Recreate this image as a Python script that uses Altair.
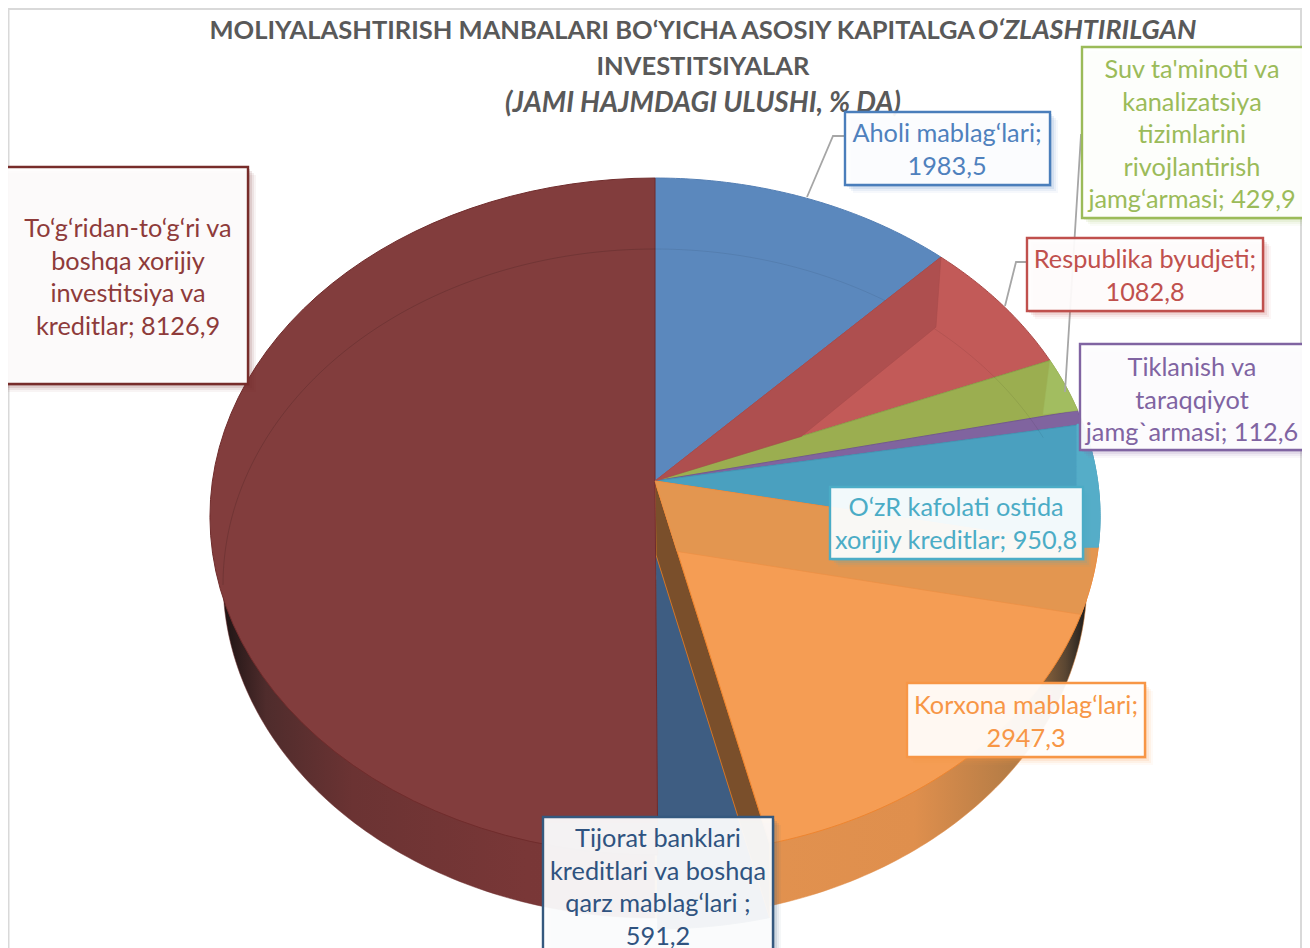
import math
import altair as alt
import pandas as pd

# ---- data ----
CATEGORIES = ["Aholi mablag‘lari", "Respublika byudjeti", "Suv ta'minoti va kanalizatsiya",
              "Tiklanish va taraqqiyot", "O‘zR kafolati ostida xorijiy kreditlar",
              "Korxona mablag‘lari", "Tijorat banklari kreditlari", "To‘g‘ridan-to‘g‘ri investitsiya"]
VALUES = [1983.5, 1082.8, 429.9, 112.6, 950.8, 2947.3, 591.2, 8126.9]
COLORS = ["#5b88bd", "#c25a58", "#9bae50", "#80649f", "#4aa0bf", "#f59d54", "#3e5d82", "#823d3d"]
TITLE_PLAIN = "MOLIYALASHTIRISH MANBALARI BO‘YICHA ASOSIY KAPITALGA"
TITLE_ITALIC = "O‘ZLASHTIRILGAN"
TITLE_LINE2 = "INVESTITSIYALAR"
TITLE_LINE3 = "(JAMI HAJMDAGI ULUSHI, % DA)"
LABEL_LINES = [
    ["Aholi mablag‘lari;", "1983,5"],
    ["Respublika byudjeti;", "1082,8"],
    ["Suv ta'minoti va", "kanalizatsiya", "tizimlarini", "rivojlantirish", "jamg‘armasi; 429,9"],
    ["Tiklanish va", "taraqqiyot", "jamg`armasi; 112,6"],
    ["O‘zR kafolati ostida", "xorijiy kreditlar; 950,8"],
    ["Korxona mablag‘lari;", "2947,3"],
    ["Tijorat banklari", "kreditlari va boshqa", "qarz mablag‘lari ;", "591,2"],
    ["To‘g‘ridan-to‘g‘ri va", "boshqa xorijiy", "investitsiya va", "kreditlar; 8126,9"],
]

# ---- layout ----
W, H = 1294, 940
XS = alt.Scale(domain=[8, 8 + W], range=[0, W])
YS = alt.Scale(domain=[8, 8 + H], range=[0, H])
AX, AY = 655.0, 481.0
K, A_Y, D = 0.1049, -284.3, 442.6
BOX = {0: (845, 1050, 112, 185, "#4a7ebb", "#4f81bd", 947, 134),
       1: (1027, 1263, 238, 311, "#c0504d", "#c0504d", 1145, 260),
       2: (1082, 1312, 47, 218, "#9bbb59", "#9bbb59", 1192, 70),
       3: (1080, 1312, 344, 450, "#8064a2", "#8064a2", 1192, 368),
       4: (830, 1083, 487, 559, "#4bacc6", "#4bacc6", 956, 508),
       5: (907, 1145, 683, 757, "#f79646", "#f79646", 1026, 706),
       6: (543, 773, 817, 970, "#35597f", "#2f5380", 658, 839),
       7: (0, 248, 167, 384, "#772c2a", "#8e3b3a", 128, 229)}
LINE_STEP = 32.5
FONT = "Lato"
LABEL_SIZE = 25.3
TITLE_SIZE = 25.5


def rim(deg):
    t = math.radians(deg)
    u, v = math.sin(t), math.cos(t)
    den = 1 + K * v
    return AX + D * u / den, (A_Y * v + AY) / den


def arc(d0, d1, n=60):
    return [rim(d0 + (d1 - d0) * i / n) for i in range(n + 1)]


def ell(cx, cy, rx, ry, a0, a1, n=90):
    return [(cx + rx * math.sin(math.radians(a0 + (a1 - a0) * i / n)),
             cy - ry * math.cos(math.radians(a0 + (a1 - a0) * i / n))) for i in range(n + 1)]


def meet(p1, p2, p3, p4):
    x1, y1 = p1; x2, y2 = p2; x3, y3 = p3; x4, y4 = p4
    d = (x1 - x2) * (y3 - y4) - (y1 - y2) * (x3 - x4)
    s = ((x1 - x3) * (y3 - y4) - (y1 - y3) * (x3 - x4)) / d
    return x1 + s * (x2 - x1), y1 + s * (y2 - y1)


def df(pts):
    return pd.DataFrame({"x": [p[0] for p in pts], "y": [p[1] for p in pts], "i": range(len(pts))})


def enc(chart):
    return chart.encode(x=alt.X("x:Q", scale=XS, axis=None),
                        y=alt.Y("y:Q", scale=YS, axis=None),
                        order=alt.Order("i:Q"))


def poly(pts, fill, stroke=None, sw=1.0, opacity=1.0):
    pts = list(pts) + [pts[0]]
    return enc(alt.Chart(df(pts)).mark_line(fill=fill, stroke=stroke or fill, strokeWidth=sw,
                                            opacity=opacity, interpolate="linear"))


def path(pts, stroke, sw=1.0, opacity=1.0):
    return enc(alt.Chart(df(pts)).mark_line(stroke=stroke, strokeWidth=sw, opacity=opacity))


def rect(x0, x1, y0, y1, **kw):
    d = pd.DataFrame({"x": [x0], "x2": [x1], "y": [y0], "y2": [y1]})
    return alt.Chart(d).mark_rect(**kw).encode(
        x=alt.X("x:Q", scale=XS, axis=None), x2="x2:Q",
        y=alt.Y("y:Q", scale=YS, axis=None), y2="y2:Q")


def text(s, x, y, color, size=LABEL_SIZE, align="center", weight="normal", style="normal"):
    d = pd.DataFrame({"x": [x], "y": [y], "t": [s]})
    return alt.Chart(d).mark_text(font=FONT, fontSize=size, color=color, align=align, baseline="middle",
                                  fontWeight=weight, fontStyle=style).encode(
        x=alt.X("x:Q", scale=XS, axis=None), y=alt.Y("y:Q", scale=YS, axis=None), text="t:N")


total = sum(VALUES)
cum = [0.0]
for v in VALUES:
    cum.append(cum[-1] + v / total * 360)
apex = (AX, AY)
DROP = 74
layers = []

# frame
layers.append(rect(8.5, 1301, 9, 960, fill="white", stroke="#d9d9d9", strokeWidth=2))

# title
GREY = "#595959"
layers += [text(TITLE_PLAIN, 975, 31, GREY, TITLE_SIZE, "right", "bold"),
           text(TITLE_ITALIC, 978, 31, GREY, 27, "left", "bold", "italic"),
           text(TITLE_LINE2, 703, 67, GREY, TITLE_SIZE, "center", "bold"),
           text(TITLE_LINE3, 703, 104, GREY, 27.8, "center", "bold", "italic")]

# wall of the disc
BX, BY, BRX, BRY = 655, 580, 432, 338
left_wall = alt.LinearGradient(gradient="linear", x1=0, x2=1, y1=0, y2=0, stops=[
    alt.GradientStop(color="#1e1414", offset=0), alt.GradientStop(color="#4f2c2c", offset=0.1),
    alt.GradientStop(color="#6b3333", offset=0.3), alt.GradientStop(color="#793737", offset=0.7),
    alt.GradientStop(color="#7b3838", offset=1)])
right_wall = alt.LinearGradient(gradient="linear", x1=0, x2=1, y1=0, y2=0, stops=[
    alt.GradientStop(color="#e39350", offset=0), alt.GradientStop(color="#df8f4d", offset=0.6),
    alt.GradientStop(color="#b07a45", offset=0.85), alt.GradientStop(color="#5a4632", offset=0.95),
    alt.GradientStop(color="#1a1a1a", offset=1)])
layers.append(enc(alt.Chart(df(ell(BX, BY, BRX, BRY, 180, 270) + [(BX, BY), (BX, BY + BRY)])).mark_line(
    fill=left_wall, stroke="#6e2f2f", strokeWidth=0.5)))
layers.append(enc(alt.Chart(df(ell(BX, BY, BRX, BRY, 180, 90) + [(BX, BY), (BX, BY + BRY)])).mark_line(
    fill=right_wall, stroke="#e08a45", strokeWidth=0.5)))

# sunken navy slice and the exposed side of the orange slice
navy = arc(cum[6], cum[7])
layers.append(poly([(AX + 1, AY + DROP)] + [(x, y + DROP) for x, y in navy], COLORS[6]))
oe = rim(cum[6])
layers.append(poly([apex, oe, (oe[0], oe[1] + DROP), (AX + 1, AY + DROP)], "#7a4f2b", "#ed7d1f", 0.8))

# top faces
STROKES = ["#5580b5", "#a94a48", "#8da24a", "#73598f", "#4297b5", "#ee8530", None, "#702c2c"]
for i in range(8):
    if i == 6:
        continue
    layers.append(poly([apex] + arc(cum[i], cum[i + 1]), COLORS[i], STROKES[i], 1.0))

# bottom rim seen through the translucent face
RX, RY, RRX, RRY = 655, 585, 432, 336
layers.append(path(ell(RX, RY, RRX, RRY, 270, 360), "#000000", 1, 0.13))
layers.append(path(ell(RX, RY, RRX, RRY, 0, 64), "#000000", 1, 0.07))

# inner walls seen through the faces
a = rim(cum[1])
a2 = (a[0] - 5, a[1] + 70)
ap2 = (AX, AY + DROP)
layers.append(poly([apex, a, a2, meet(a2, ap2, apex, rim(cum[2]))], "#ae4f4f", "#a84b4b", 0.6))
b0 = rim(cum[2])
layers.append(poly([b0] + arc(cum[2], cum[3], 12)[1:] + [(b0[0] - 7, b0[1] + 54)], "#a2bd60", "#9fb85c", 0.5))
end_band = 112.5
s1 = rim(end_band)
band_low = meet((AX, AY + 67), s1, apex, oe)
layers.append(poly([apex] + arc(cum[5], end_band, 20) + [band_low], "#e39650", "#ec8f45", 0.7))
teal_rim = arc(cum[4], cum[5], 20)
INNER_X = 1077
inner = [(min(x, INNER_X), y) for x, y in teal_rim]
layers.append(poly(teal_rim + inner[::-1], "#55adc8"))

# leader lines
LEAD = "#a6a6a6"
layers.append(path([(807, 197), (833, 136), (846, 136)], LEAD, 1.8))
layers.append(path([(1005, 306), (1016, 262), (1028, 262)], LEAD, 1.8))
layers.append(path([(1065, 392), (1081, 135), (1083, 135)], LEAD, 1.8))

# label boxes
for i, lines in enumerate(LABEL_LINES):
    x0, x1, y0, y1, edge, ink, cx, cy = BOX[i]
    for off, op in ((8, 0.05), (6, 0.08), (4, 0.12), (2, 0.16)):
        layers.append(rect(x0 + off, x1 + off, y0 + off, y1 + off, fill=edge, opacity=op))
    layers.append(rect(x0, x1, y0, y1, fill="white", fillOpacity=0.93, stroke=edge, strokeWidth=2.4))
    for j, line in enumerate(lines):
        layers.append(text(line, cx, cy + j * LINE_STEP, ink))

chart = alt.layer(*layers).resolve_scale(x="shared", y="shared").properties(
    width=W, height=H, padding=0, background="white",
    autosize=alt.AutoSizeParams(type="none")
).configure_view(stroke=None)

chart.save("out.html", embed_options={"renderer": "svg", "actions": False})
